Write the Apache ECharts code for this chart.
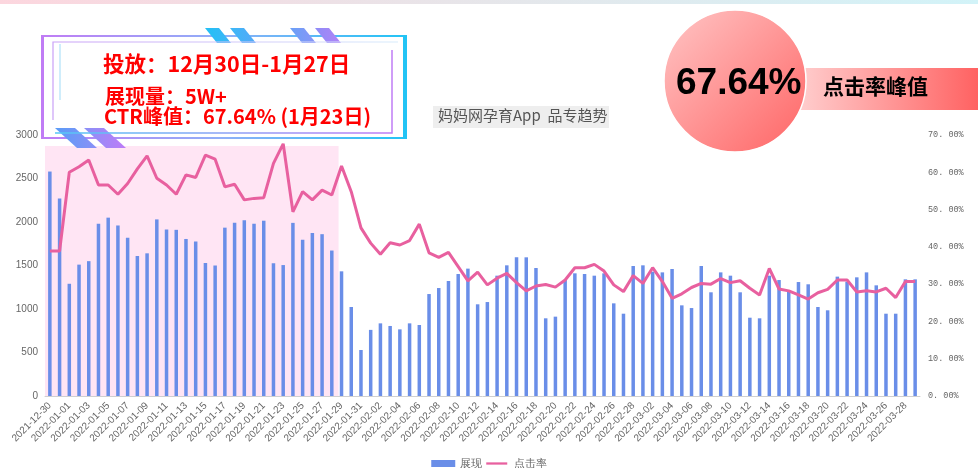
<!DOCTYPE html>
<html>
<head>
<meta charset="utf-8">
<script src="https://cdn.jsdelivr.net/npm/echarts@6/dist/echarts.min.js"></script>
<style>html,body{margin:0;padding:0;background:#fff;}#main{width:978px;height:468px;}</style>
</head>
<body>
<div id="main"></div>
<script>
// ---- data ----
var dayCount = 90;
var categories = [];
(function(){
  var d = new Date(Date.UTC(2021, 11, 30));
  for (var i = 0; i < dayCount; i++) {
    var dd = new Date(d.getTime() + i * 86400000);
    var m = dd.getUTCMonth() + 1, day = dd.getUTCDate();
    categories.push(dd.getUTCFullYear() + '-' + (m < 10 ? '0' : '') + m + '-' + (day < 10 ? '0' : '') + day);
  }
})();

var impressions = [
  2580, 2270, 1290, 1510, 1550, 1980, 2050, 1960, 1820, 1610,
  1640, 2030, 1915, 1910, 1805, 1775, 1530, 1500, 1935, 1990,
  2020, 1980, 2015, 1525, 1505, 1990, 1795, 1875, 1860, 1672,
  1433, 1023, 529, 760, 835, 805, 766, 835, 816, 1172,
  1241, 1322, 1402, 1464, 1054, 1080, 1383, 1502, 1594, 1594,
  1471, 893, 912, 1333, 1410, 1402, 1383, 1410, 1065, 946,
  1494, 1502, 1429, 1421, 1460, 1042, 1011, 1494, 1192, 1421,
  1383, 1192, 900, 893, 1383, 1333, 1199, 1310, 1284, 1023,
  985, 1372, 1314, 1364, 1421, 1272, 946, 946, 1341, 1341
];

var ctr = [
  38.9, 38.9, 60.0, 61.5, 63.3, 56.6, 56.6, 54.1, 57.0, 60.9,
  64.4, 58.4, 56.6, 54.1, 59.3, 58.6, 64.6, 63.5, 56.1, 56.8,
  52.6, 53.0, 53.2, 62.4, 67.64, 49.4, 54.8, 52.6, 55.2, 53.9,
  61.7, 54.8, 45.1, 41.0, 38.0, 41.1, 40.5, 41.7, 46.1, 38.4,
  37.2, 38.5, 34.7, 30.9, 33.2, 29.8, 31.6, 32.9, 30.4, 28.2,
  29.5, 29.9, 29.2, 31.1, 34.4, 34.4, 35.3, 33.5, 29.8, 28.0,
  32.3, 30.2, 34.4, 30.7, 26.2, 27.4, 29.1, 30.2, 30.0, 31.5,
  30.4, 30.9, 28.9, 27.1, 34.2, 28.7, 28.2, 27.1, 26.0, 27.7,
  28.6, 31.1, 31.1, 27.9, 28.2, 27.9, 28.9, 26.4, 30.7, 30.7
];

// highlighted campaign period: category index band [start, end)
var campaignBand = [-0.2, 30.2];
var campaignValueRange = [-125, 2875];
var peakText = '67.64%';
var titleText = '妈妈网孕育App  品专趋势';
var infoLines = ['投放：12月30日-1月27日', '展现量：5W+', 'CTR峰值：67.64% (1月23日)'];

// ---- chart ----
var chart = echarts.init(document.getElementById('main'), null, {renderer: 'canvas'});

var frameGrad = new echarts.graphic.LinearGradient(0, 0, 1, 0, [
  {offset: 0, color: '#c07cf5'}, {offset: 0.5, color: '#8fb0f8'}, {offset: 1, color: '#22c4f5'}
]);
function stripe(x, y, w, h, shift, c1, c2) {
  return {
    type: 'polygon', z: 20,
    shape: {points: [[x, y], [x + w, y], [x + w + shift, y + h], [x + shift, y + h]]},
    style: {fill: new echarts.graphic.LinearGradient(0, 0, 1, 0, [{offset: 0, color: c1}, {offset: 1, color: c2}])}
  };
}

var option = {
  backgroundColor: '#ffffff',
  animation: false,
  grid: {left: 45, right: 58, top: 135, bottom: 72},
  legend: {
    data: [
      {name: '展现', icon: 'rect'},
      {name: '点击率', icon: 'path://M0,0 L0,0 M0,2.7 L24,2.7 L24,5.3 L0,5.3 Z M0,8 L0,8'}
    ],
    top: 453, left: 'center',
    itemWidth: 24, itemHeight: 7, itemGap: 4,
    textStyle: {color: '#666', fontSize: 11}
  },
  xAxis: [
    {
      type: 'category',
      data: categories,
      boundaryGap: true,
      axisLine: {lineStyle: {color: '#d0d0d0'}},
      axisTick: {show: false},
      axisLabel: {interval: 1, rotate: 45, fontSize: 10, color: '#666', margin: 8}
    },
    {
      type: 'value', min: 0, max: dayCount, show: false
    }
  ],
  yAxis: [
    {
      type: 'value', min: 0, max: 3000, interval: 500,
      axisLine: {show: false}, axisTick: {show: false},
      splitLine: {show: false},
      axisLabel: {color: '#666', fontSize: 10, margin: 7, formatter: function (v) { return String(v); }}
    },
    {
      type: 'value', min: 0, max: 70, interval: 10,
      axisLine: {show: false}, axisTick: {show: false},
      splitLine: {show: false},
      axisLabel: {
        color: '#666', fontSize: 8.5, margin: 8, fontFamily: 'Liberation Mono',
        formatter: function (v) { return v.toFixed(2).replace('.', '. ') + '%'; }
      }
    }
  ],
  series: [
    {
      name: '展现', type: 'bar', data: impressions, yAxisIndex: 0,
      barWidth: 3.5,
      itemStyle: {color: '#6a8ee8'}
    },
    {
      name: '点击率', type: 'line', data: ctr, yAxisIndex: 1,
      showSymbol: false, symbol: 'none',
      lineStyle: {width: 3, color: '#e8609f'},
      itemStyle: {color: '#e8609f'}
    },
    {
      name: 'campaign', type: 'line', data: [], xAxisIndex: 1, yAxisIndex: 0, z: 10,
      markArea: {
        silent: true,
        itemStyle: {color: 'rgba(255,170,220,0.3)'},
        data: [[
          {xAxis: campaignBand[0], yAxis: campaignValueRange[1]},
          {xAxis: campaignBand[1], yAxis: campaignValueRange[0]}
        ]]
      }
    }
  ],
  graphic: [
    {type: 'rect', z: 1, shape: {x: 0, y: 0, width: 978, height: 4},
     style: {fill: new echarts.graphic.LinearGradient(0, 0, 1, 0, [{offset: 0, color: '#fcd6de'}, {offset: 0.5, color: '#e6e6ea'}, {offset: 1, color: '#d2f3f8'}])}},
    {type: 'rect', z: 20, shape: {x: 42, y: 36, width: 364, height: 102},
     style: {fill: '#ffffff', stroke: frameGrad, lineWidth: 2}},
    {type: 'rect', z: 20, shape: {x: 41, y: 36, width: 3, height: 102}, style: {fill: '#c07cf5'}},
    {type: 'rect', z: 20, shape: {x: 403, y: 36, width: 3, height: 102}, style: {fill: '#22c4f5'}},
    {type: 'polyline', z: 21, shape: {points: [[53, 120], [53, 42], [398, 42]]},
     style: {stroke: new echarts.graphic.LinearGradient(0, 0, 1, 0, [{offset: 0, color: '#c9a0f7'}, {offset: 1, color: '#d8ecfb'}]), lineWidth: 1.2, fill: null}},
    {type: 'line', z: 21, shape: {x1: 60, y1: 44, x2: 60, y2: 100}, style: {stroke: '#9fdcf8', lineWidth: 1}},
    {type: 'polyline', z: 21, shape: {points: [[392, 50], [392, 133], [55, 133]]},
     style: {stroke: new echarts.graphic.LinearGradient(0, 0, 1, 0, [{offset: 0, color: '#55c8f5'}, {offset: 1, color: '#c07cf5'}]), lineWidth: 1.5, fill: null}},
    stripe(205, 28, 14, 15, 12, '#22c0f5', '#3db5f7'),
    stripe(230, 28, 14, 15, 12, '#3bb8f7', '#55a8f8'),
    stripe(290, 28, 14, 15, 12, '#6aa0f7', '#8a95f7'),
    stripe(315, 28, 14, 15, 12, '#8e8cf7', '#b184f7'),
    stripe(55, 128, 20, 20, 22, '#5a9cf7', '#8a90f7'),
    stripe(84, 128, 20, 20, 22, '#8a90f7', '#bd7cf7'),
    {type: 'text', z: 22, left: 103, top: 53, style: {text: infoLines[0], fill: '#ff0000', font: 'bold 21.5px "Noto Sans CJK SC", sans-serif'}},
    {type: 'text', z: 22, left: 105, top: 86, style: {text: infoLines[1], fill: '#ff0000', font: 'bold 20px "Noto Sans CJK SC", sans-serif'}},
    {type: 'text', z: 22, left: 104, top: 106, style: {text: infoLines[2], fill: '#ff0000', font: 'bold 20px "Noto Sans CJK SC", sans-serif'}},
    {type: 'rect', z: 20, shape: {x: 433, y: 106, width: 176, height: 22}, style: {fill: '#eeeeee'}},
    {type: 'text', z: 21, left: 438, top: 108, style: {text: titleText, fill: '#555', font: '15px "Noto Sans CJK SC", sans-serif'}},
    {type: 'rect', z: 20, shape: {x: 795, y: 68, width: 183, height: 42},
     style: {fill: new echarts.graphic.LinearGradient(0, 0, 1, 0, [{offset: 0, color: '#ffd0d0'}, {offset: 1, color: '#ff6262'}])}},
    {type: 'circle', z: 21, shape: {cx: 735, cy: 81, r: 71},
     style: {stroke: '#ffffff', lineWidth: 1.5,
       fill: new echarts.graphic.LinearGradient(0, 0, 1, 1, [{offset: 0, color: '#ffc6c6'}, {offset: 1, color: '#ff6464'}])}},
    {type: 'text', z: 22, left: 676, top: 65, style: {text: peakText, fill: '#000', font: 'bold 37px "Liberation Sans", sans-serif',
       shadowColor: 'rgba(0,0,0,0.55)', shadowBlur: 3, shadowOffsetX: 1, shadowOffsetY: 1}},
    {type: 'text', z: 22, left: 823, top: 76, style: {text: '点击率峰值', fill: '#000', font: 'bold 21px "Noto Sans CJK SC", sans-serif',
       shadowColor: 'rgba(0,0,0,0.35)', shadowBlur: 2, shadowOffsetX: 1, shadowOffsetY: 1}}
  ]
};
chart.setOption(option);
</script>
</body>
</html>
